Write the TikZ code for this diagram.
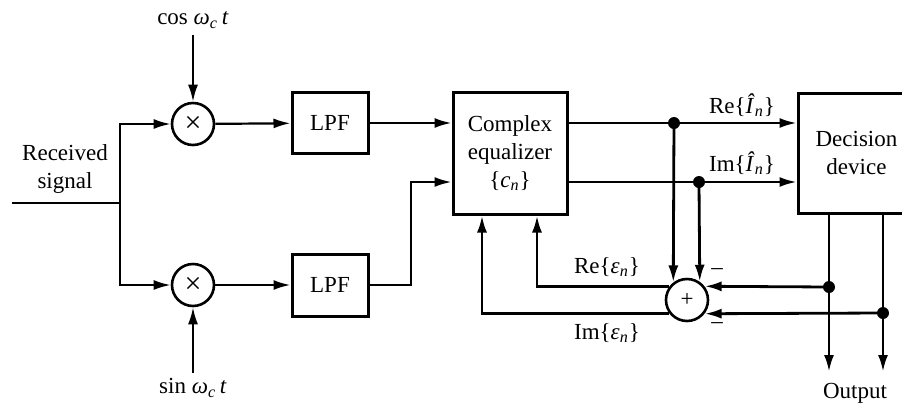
\documentclass[tikz,border=0pt]{standalone}
\usepackage{fontspec}
\setmainfont{Liberation Serif}
\usetikzlibrary{arrows.meta,calc}

\begin{document}
\begin{tikzpicture}[x=0.5pt,y=-0.5pt,
  line width=1.1pt,
  >={Latex[length=8.5pt,width=5pt]},
  every node/.style={font=\fontsize{11.5}{14}\selectfont},
  blk/.style={draw,line width=1.5pt,inner sep=0pt,align=center},
  mixer/.style={draw,circle,line width=1.3pt,minimum size=21pt,inner sep=0pt},
  dot/.style={circle,fill,inner sep=0pt,minimum size=6pt},
  lbl/.style={inner sep=0pt,align=center},
  fb/.style={line width=1.4pt}]

\useasboundingbox (0,0) rectangle (902,403);

% mixers and low-pass filters
\node[mixer] (m1) at (193,124) {\fontsize{15}{15}\selectfont ×};
\node[mixer] (m2) at (193,285) {\fontsize{15}{15}\selectfont ×};
\node[blk,minimum width=38pt,minimum height=30.5pt] (lpf1) at (330,123) {LPF};
\node[blk,minimum width=38pt,minimum height=31pt] (lpf2) at (330,285) {LPF};

% equalizer, decision device and error adder
\node[blk,minimum width=57pt,minimum height=61pt] (eq) at (510,153)
  {Complex\\equalizer\\\{\textit{c}\textsubscript{\textit{n}}\}};
\node[blk,minimum width=58.5pt,minimum height=60pt] (dec) at (856.5,153)
  {Decision\\device};
\node[mixer] (add) at (687,300) {+};

% labels
\node[lbl] (rx) at (65,169) {Received\\signal};
\node[lbl] (cos) at (193,20) {cos \textit{ω}\textsubscript{\textit{c}}\,\textit{t}};
\node[lbl] (sin) at (193,388) {sin \textit{ω}\textsubscript{\textit{c}}\,\textit{t}};
\node[lbl] (reI) at (742,105) {Re\{\textit{Î}\textsubscript{\textit{n}}\}};
\node[lbl] (imI) at (742,163) {Im\{\textit{Î}\textsubscript{\textit{n}}\}};
\node[lbl] (reE) at (607,267) {Re\{\textit{ε}\textsubscript{\textit{n}}\}};
\node[lbl] (imE) at (607,333) {Im\{\textit{ε}\textsubscript{\textit{n}}\}};
\node[lbl] (out) at (855,393) {Output};
\node[lbl] (neg1) at (717,272) {\textendash};
\node[lbl] (neg2) at (717,326) {\textendash};

% helper points
\coordinate (in) at (12,203);
\coordinate (split) at (120,203);
\coordinate (cosin) at (193,35);
\coordinate (sinin) at (193,373);
\coordinate (bend) at (411,182);
\coordinate (eqRe) at (567,123);
\coordinate (eqIm) at (567,182);
\coordinate (fbRe) at (537,300);
\coordinate (fbIm) at (482,300);
\coordinate (o1) at (829,372);
\coordinate (o2) at (883,372);

\node[dot] (d1) at (674,123) {};
\node[dot] (d2) at (699,182) {};
\node[dot] (d3) at (829,287) {};
\node[dot] (d4) at (883,313) {};

% front end
\draw (in) -- (split);
\draw[->] (split) |- (m1.west);
\draw[->] (split) |- (m2.west);
\draw[->] (cosin) -- (m1.north);
\draw[->] (sinin) -- (m2.south);
\draw[->] (m1) -- (lpf1);
\draw[->] (m2) -- (lpf2);
\draw[->] (lpf1.east) -- (lpf1.east -| eq.west);
\draw[->] (lpf2.east) -| (bend) -- (bend -| eq.west);

% equalizer outputs
\draw[->] (eqRe) -- (eqRe -| dec.west);
\draw[->] (eqIm) -- (eqIm -| dec.west);
\draw[->,fb] (d1.center) -- (add.128);
\draw[->,fb] (d2.center) -- (add.55);

% decisions
\draw[->,fb] (o1 |- dec.south) -- (o1);
\draw[->,fb] (o2 |- dec.south) -- (o2);
\draw[->,fb] (d3.center) -- (add.38);
\draw[->,fb] (d4.center) -- (add.-38);

% error feedback
\draw[->,fb] (add.142) -| (fbRe |- eq.south);
\draw[->,fb] (add.218) -| (fbIm |- eq.south);
\end{tikzpicture}
\end{document}
